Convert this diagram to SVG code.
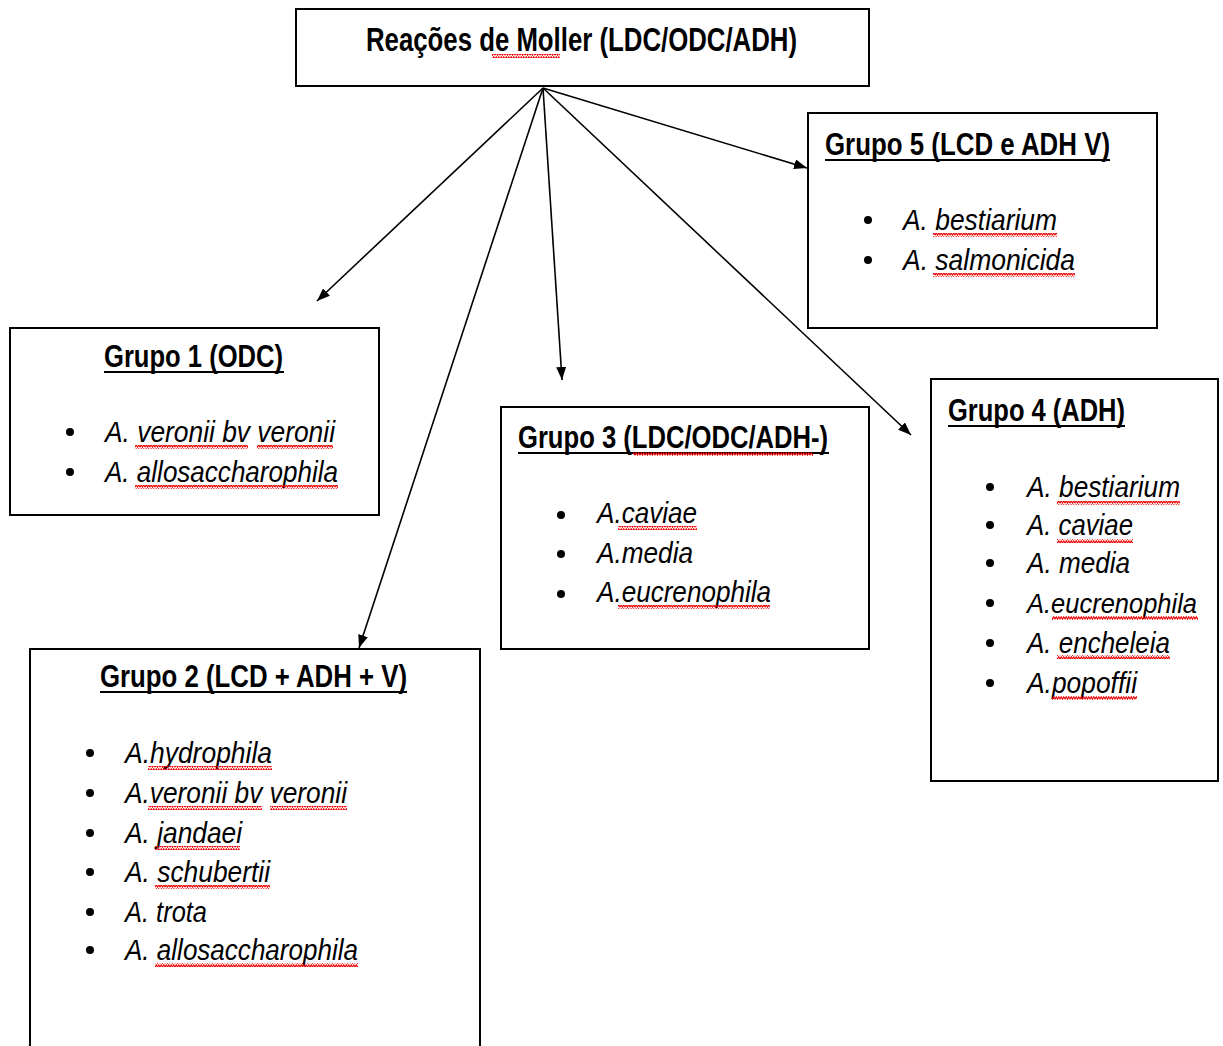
<svg xmlns="http://www.w3.org/2000/svg" width="1223" height="1046" viewBox="0 0 1223 1046">
<style>
.box{fill:#fff;stroke:#000;stroke-width:2}
.t{font-family:"Liberation Sans",Arial,sans-serif;font-weight:bold;fill:#000}
.h{font-family:"Liberation Sans",Arial,sans-serif;font-weight:bold;font-size:31px;fill:#000}
.i{font-family:"Liberation Sans",Arial,sans-serif;font-style:italic;font-size:30px;fill:#000}
.ul{stroke:#000;stroke-width:2}
.sq{fill:url(#sq)}
.con{stroke:#000;stroke-width:1.6;fill:none;marker-end:url(#ah)}
</style>
<defs>
<pattern id="sq" width="5" height="4" patternUnits="userSpaceOnUse">
<path d="M0,3.2 L1.25,0.8 L2.5,3.2 L3.75,0.8 L5,3.2" fill="none" stroke="#e00" stroke-width="1.1"/>
</pattern>
<marker id="ah" markerUnits="userSpaceOnUse" markerWidth="14" markerHeight="11" refX="13" refY="5" orient="auto">
<path d="M0,0 L13,5 L0,10 z" fill="#000"/>
</marker>
<circle id="b" r="4" fill="#000"/>
</defs>

<g id="connectors">
<line class="con" x1="543" y1="88" x2="317" y2="301"/>
<line class="con" x1="543" y1="88" x2="359" y2="648"/>
<line class="con" x1="543" y1="88" x2="562" y2="380"/>
<line class="con" x1="543" y1="88" x2="911" y2="435"/>
<line class="con" x1="543" y1="88" x2="807" y2="168"/>
</g>

<g id="title">
<rect class="box" x="296" y="9" width="573" height="77"/>
<text class="t" x="366" y="51" font-size="33" textLength="431" lengthAdjust="spacingAndGlyphs">Reações de Moller (LDC/ODC/ADH)</text>
<rect class="sq" x="492" y="54" width="68" height="4"/>
</g>

<g id="grupo1">
<rect class="box" x="10" y="328" width="369" height="187"/>
<text class="h" x="104" y="367" textLength="179" lengthAdjust="spacingAndGlyphs">Grupo 1 (ODC)</text>
<line class="ul" x1="104" y1="372" x2="284" y2="372"/>
<use href="#b" x="70" y="432"/>
<use href="#b" x="70" y="472"/>
<text class="i" x="105" y="442" textLength="230" lengthAdjust="spacingAndGlyphs">A. veronii bv veronii</text>
<text class="i" x="105" y="482" textLength="233" lengthAdjust="spacingAndGlyphs">A. allosaccharophila</text>
<rect class="sq" x="135" y="445" width="113" height="4"/>
<rect class="sq" x="257" y="445" width="76" height="4"/>
<rect class="sq" x="135" y="485" width="203" height="4"/>
</g>

<g id="grupo2">
<rect class="box" x="30" y="649" width="450" height="410"/>
<text class="h" x="100" y="687" textLength="307" lengthAdjust="spacingAndGlyphs">Grupo 2 (LCD + ADH + V)</text>
<line class="ul" x1="100" y1="692" x2="407" y2="692"/>
<use href="#b" x="90" y="753"/>
<use href="#b" x="90" y="793"/>
<use href="#b" x="90" y="833"/>
<use href="#b" x="90" y="872"/>
<use href="#b" x="90" y="912"/>
<use href="#b" x="90" y="950"/>
<text class="i" x="125" y="763" textLength="147" lengthAdjust="spacingAndGlyphs">A.hydrophila</text>
<text class="i" x="125" y="803" textLength="222" lengthAdjust="spacingAndGlyphs">A.veronii bv veronii</text>
<text class="i" x="125" y="843" textLength="117" lengthAdjust="spacingAndGlyphs">A. jandaei</text>
<text class="i" x="125" y="882" textLength="145" lengthAdjust="spacingAndGlyphs">A. schubertii</text>
<text class="i" x="125" y="922" textLength="82" lengthAdjust="spacingAndGlyphs">A. trota</text>
<text class="i" x="125" y="960" textLength="233" lengthAdjust="spacingAndGlyphs">A. allosaccharophila</text>
<rect class="sq" x="148" y="766" width="124" height="4"/>
<rect class="sq" x="148" y="806" width="114" height="4"/>
<rect class="sq" x="270" y="806" width="77" height="4"/>
<rect class="sq" x="155" y="846" width="85" height="4"/>
<rect class="sq" x="155" y="885" width="115" height="4"/>
<rect class="sq" x="155" y="963" width="203" height="4"/>
</g>

<g id="grupo3">
<rect class="box" x="501" y="407" width="368" height="242"/>
<text class="h" x="518" y="448" textLength="310" lengthAdjust="spacingAndGlyphs">Grupo 3 (LDC/ODC/ADH-)</text>
<line class="ul" x1="518" y1="453" x2="829" y2="453"/>
<rect class="sq" x="633" y="452" width="180" height="4"/>
<use href="#b" x="561" y="515"/>
<use href="#b" x="561" y="554"/>
<use href="#b" x="561" y="594"/>
<text class="i" x="597" y="523" textLength="100" lengthAdjust="spacingAndGlyphs">A.caviae</text>
<text class="i" x="597" y="563" textLength="96" lengthAdjust="spacingAndGlyphs">A.media</text>
<text class="i" x="597" y="602" textLength="174" lengthAdjust="spacingAndGlyphs">A.eucrenophila</text>
<rect class="sq" x="618" y="526" width="79" height="4"/>
<rect class="sq" x="618" y="605" width="152" height="4"/>
</g>

<g id="grupo4">
<rect class="box" x="931" y="379" width="287" height="402"/>
<text class="h" x="948" y="421" textLength="177" lengthAdjust="spacingAndGlyphs">Grupo 4 (ADH)</text>
<line class="ul" x1="948" y1="426" x2="1125" y2="426"/>
<use href="#b" x="990" y="487"/>
<use href="#b" x="990" y="525"/>
<use href="#b" x="990" y="563"/>
<use href="#b" x="990" y="603"/>
<use href="#b" x="990" y="643"/>
<use href="#b" x="990" y="683"/>
<text class="i" x="1027" y="497" textLength="153" lengthAdjust="spacingAndGlyphs">A. bestiarium</text>
<text class="i" x="1027" y="535" textLength="106" lengthAdjust="spacingAndGlyphs">A. caviae</text>
<text class="i" x="1027" y="573" textLength="103" lengthAdjust="spacingAndGlyphs">A. media</text>
<text class="i" x="1027" y="613" style="font-size:27px" textLength="170" lengthAdjust="spacingAndGlyphs">A.eucrenophila</text>
<text class="i" x="1027" y="653" textLength="143" lengthAdjust="spacingAndGlyphs">A. encheleia</text>
<text class="i" x="1027" y="693" textLength="110" lengthAdjust="spacingAndGlyphs">A.popoffii</text>
<rect class="sq" x="1057" y="501" width="123" height="4"/>
<rect class="sq" x="1057" y="539" width="76" height="4"/>
<rect class="sq" x="1052" y="616" width="146" height="4"/>
<rect class="sq" x="1057" y="655" width="113" height="4"/>
<rect class="sq" x="1052" y="696" width="85" height="4"/>
</g>

<g id="grupo5">
<rect class="box" x="808" y="113" width="349" height="215"/>
<text class="h" x="825" y="155" textLength="285" lengthAdjust="spacingAndGlyphs">Grupo 5 (LCD e ADH V)</text>
<line class="ul" x1="825" y1="160" x2="1110" y2="160"/>
<use href="#b" x="868" y="220"/>
<use href="#b" x="868" y="260"/>
<text class="i" x="903" y="230" textLength="154" lengthAdjust="spacingAndGlyphs">A. bestiarium</text>
<text class="i" x="903" y="270" textLength="172" lengthAdjust="spacingAndGlyphs">A. salmonicida</text>
<rect class="sq" x="933" y="233" width="124" height="4"/>
<rect class="sq" x="933" y="273" width="142" height="4"/>
</g>
</svg>
